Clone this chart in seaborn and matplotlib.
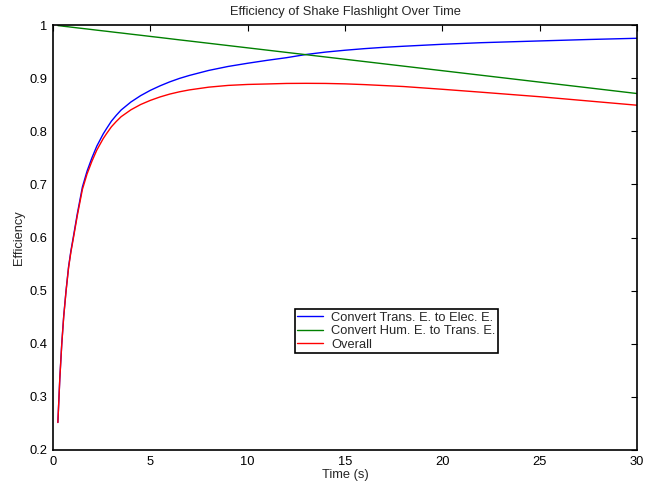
import seaborn as sns
import matplotlib.pyplot as plt
import pandas as pd

# values
time_s = [0.25, 0.35, 0.45, 0.55, 0.67, 0.8, 0.92, 1.04, 1.25, 1.51, 1.75, 2.0, 2.25,
          2.58, 2.75, 3.0, 3.25, 3.5, 4.0, 4.5, 5.0, 5.5, 6.0, 6.5, 7.0, 8.0, 9.0,
          10.0, 11.0, 12.0, 13.0, 14.0, 15.0, 16.0, 17.0, 18.0, 20.0, 22.0, 25.0,
          27.5, 30.0]
trans_to_elec = [0.252, 0.335, 0.400, 0.452, 0.500, 0.545, 0.575, 0.600, 0.645, 0.695,
                 0.725, 0.750, 0.772, 0.795, 0.805, 0.819, 0.830, 0.840, 0.855, 0.867,
                 0.877, 0.8855, 0.893, 0.8995, 0.905, 0.9145, 0.922, 0.928, 0.9335,
                 0.9385, 0.9445, 0.949, 0.9525, 0.9555, 0.958, 0.960, 0.9637, 0.9667,
                 0.970, 0.9727, 0.975]
hum_to_trans = [0.9989, 0.9985, 0.9981, 0.9976, 0.9971, 0.9966, 0.996, 0.9955, 0.9946,
                0.9935, 0.9925, 0.9914, 0.9903, 0.9889, 0.9882, 0.9871, 0.986, 0.985,
                0.9828, 0.9807, 0.9785, 0.9764, 0.9742, 0.972, 0.9699, 0.9656, 0.9613,
                0.957, 0.9527, 0.9484, 0.9441, 0.9398, 0.9355, 0.9312, 0.9269, 0.9226,
                0.914, 0.9054, 0.8925, 0.8818, 0.871]
overall = [0.2517, 0.3345, 0.3992, 0.4509, 0.4986, 0.5431, 0.5727, 0.5973, 0.6415,
           0.6905, 0.7196, 0.7436, 0.7645, 0.7862, 0.7955, 0.8084, 0.8184, 0.8274,
           0.8403, 0.8503, 0.8581, 0.8646, 0.870, 0.8743, 0.8778, 0.883, 0.8863,
           0.8881, 0.889, 0.890, 0.8902, 0.890, 0.8892, 0.8878, 0.886, 0.8842, 0.879,
           0.8735, 0.865, 0.857, 0.849]

names = ['Convert Trans. E. to Elec. E.', 'Convert Hum. E. to Trans. E.', 'Overall']
colors = ['#0000ff', '#008000', '#ff0000']

frames = []
for name, vals in zip(names, [trans_to_elec, hum_to_trans, overall]):
    frames.append(pd.DataFrame({'Time (s)': time_s, 'Efficiency': vals, 'series': name}))
df = pd.concat(frames, ignore_index=True)

sns.set_style('white')
plt.rcParams['font.family'] = ['Liberation Sans', 'DejaVu Sans']
fs = 9.3

fig = plt.figure(figsize=(6.57, 4.83), dpi=100)
ax = fig.add_axes([53/657, 1-450/483, 584/657, 425/483])

sns.lineplot(data=df, x='Time (s)', y='Efficiency', hue='series', palette=colors,
             linewidth=1.0, ax=ax, legend=True)

ax.set_xlim(0, 30)
ax.set_ylim(0.2, 1)
ax.set_xticks([0, 5, 10, 15, 20, 25, 30])
ax.set_yticks([0.2, 0.3, 0.4, 0.5, 0.6, 0.7, 0.8, 0.9, 1.0])
ax.set_yticklabels(['0.2', '0.3', '0.4', '0.5', '0.6', '0.7', '0.8', '0.9', '1'])
ax.tick_params(direction='in', top=True, right=True, length=4.5, width=0.8,
               labelsize=fs, colors='black', pad=4)
for s in ax.spines.values():
    s.set_color('black')
    s.set_linewidth(1.2)

ax.set_title('Efficiency of Shake Flashlight Over Time', fontsize=fs, pad=7)
ax.set_xlabel('Time (s)', fontsize=fs, labelpad=1)
ax.set_ylabel('Efficiency', fontsize=fs, labelpad=3)

leg = ax.legend(loc='lower left', bbox_to_anchor=(0.414, 0.228), fontsize=fs,
                frameon=True, fancybox=False, handlelength=2.0, borderpad=0.2,
                labelspacing=0.1, handletextpad=0.6, borderaxespad=0)
leg.get_frame().set_edgecolor('black')
leg.get_frame().set_linewidth(1.2)
leg.get_frame().set_alpha(1)

plt.savefig('out.png', dpi=100)
